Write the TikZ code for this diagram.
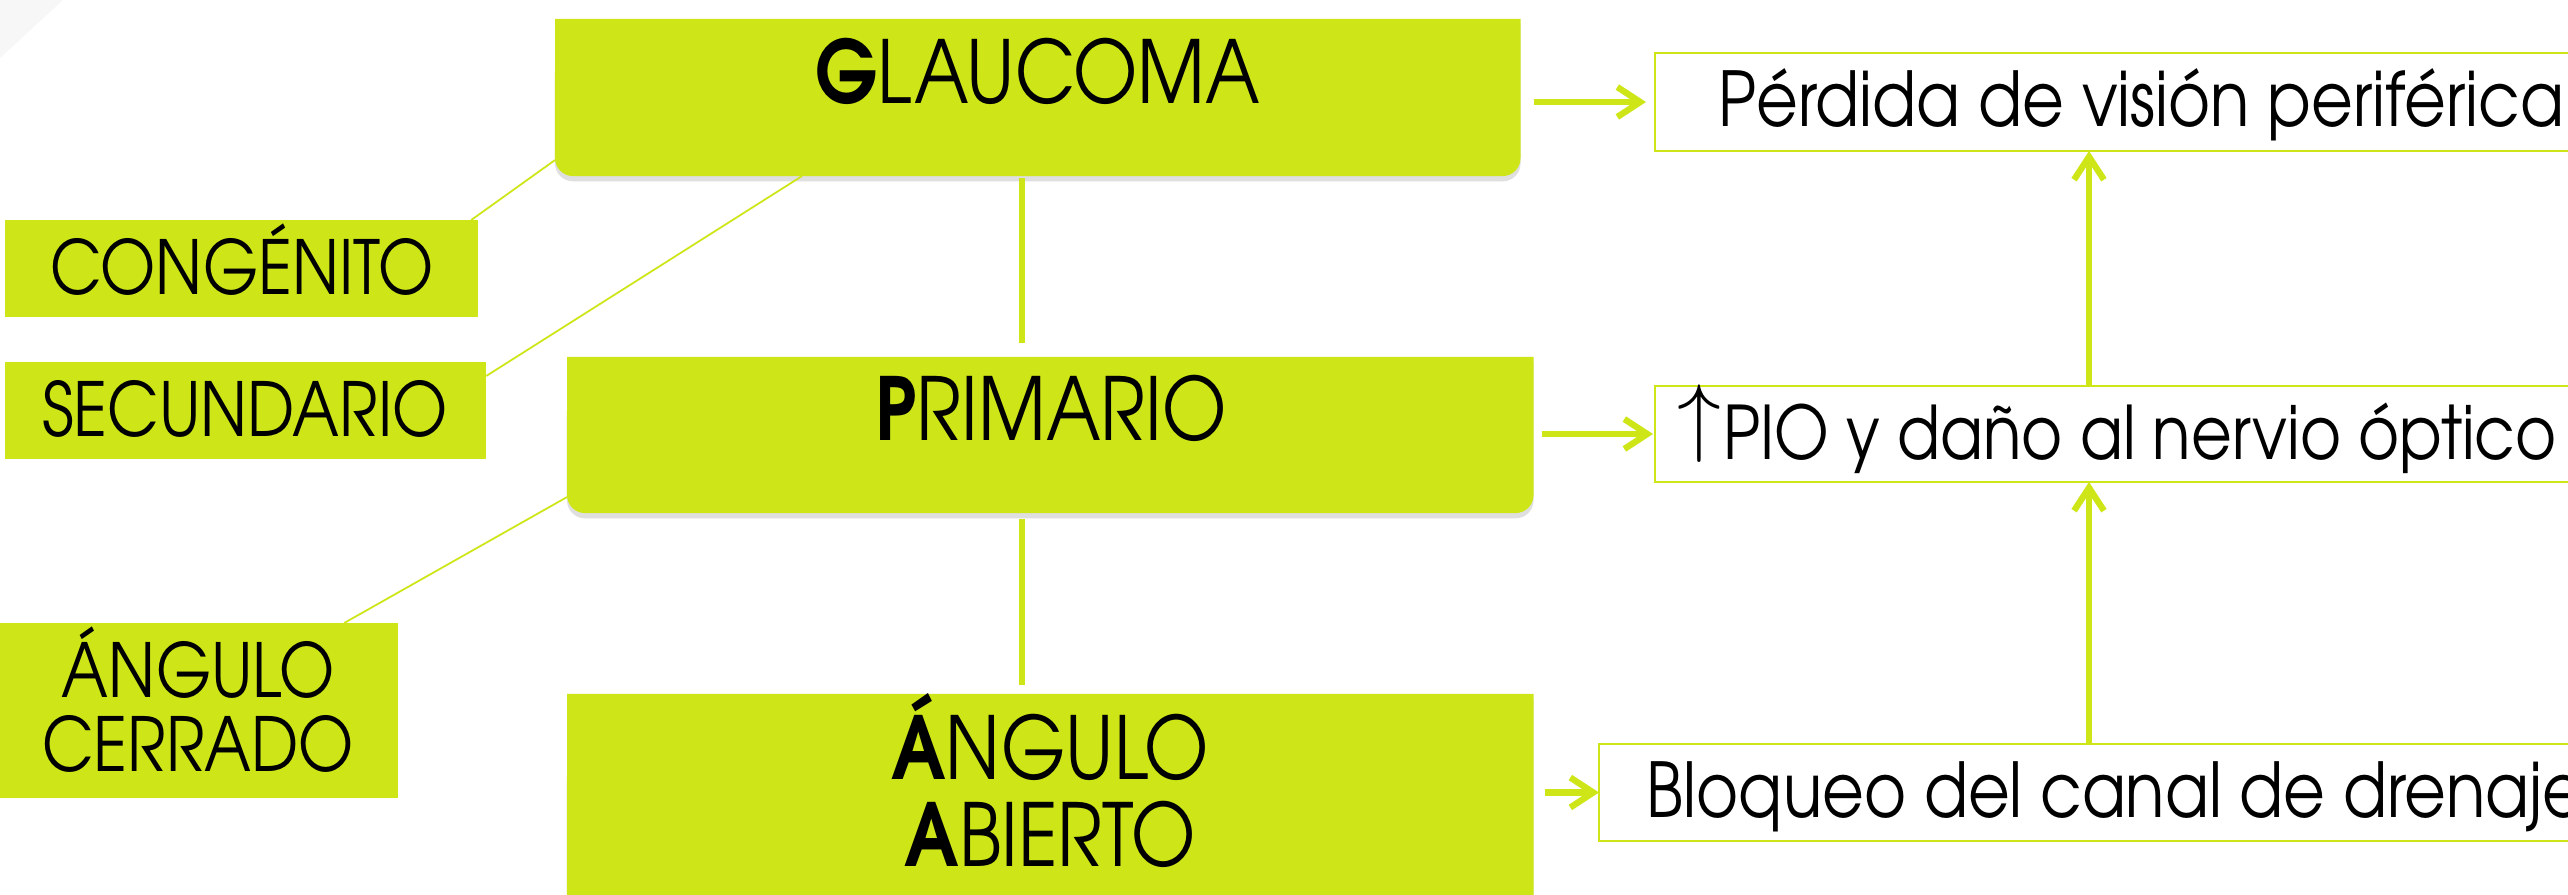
\documentclass[tikz,border=0pt]{standalone}
\usepackage{fontspec}
\setmainfont{texgyreadventor}[Extension=.otf, UprightFont=*-regular, BoldFont=*-bold, ItalicFont=*-italic, BoldItalicFont=*-bolditalic, FakeStretch=0.85]
\usetikzlibrary{arrows.meta,shadows,calc}
\definecolor{lime}{RGB}{206,230,24}
\tikzset{
  bigbox/.style={rectangle, inner sep=0pt, outer sep=0pt, anchor=north west},
  lblbox/.style={rectangle, fill=lime, inner sep=0pt, outer sep=0pt, anchor=north west},
  rbox/.style={rectangle, draw=lime, line width=0.7pt, fill=white, inner sep=0pt, outer sep=0pt, anchor=north west},
  bigtxt/.style={font=\fontsize{24.7}{25}\selectfont, inner sep=0pt, anchor=base},
  lbltxt/.style={font=\fontsize{21.2}{21.3}\selectfont, inner sep=0pt, anchor=base},
  rtxt/.style={font=\fontsize{21.5}{22}\selectfont, inner sep=0pt, anchor=base west},
  arr/.style={draw=lime, line width=1.8pt, -{Straight Barb[length=6.5pt,width=8.5pt]}},
  conn/.style={draw=lime, line width=1.6pt},
  thinconn/.style={draw=lime, line width=0.5pt},
  boxshadow/.style={drop shadow={opacity=0.25, shadow xshift=0pt, shadow yshift=-1.5pt}},
}
\begin{document}
\begin{tikzpicture}[x=0.01cm,y=0.01cm]
\clip (0,0) rectangle (2568,895);
\fill[white] (0,0) rectangle (2568,895);
\fill[black!3] (0,895) -- (63,895) -- (0,837) -- cycle;

% main boxes (invisible nodes, filled below)
\node[bigbox, minimum width=9.65cm, minimum height=1.57cm] (g) at (555,876) {};
\node[bigbox, minimum width=9.66cm, minimum height=1.56cm] (p) at (567,538) {};
\node[bigbox, minimum width=9.66cm, minimum height=2.3cm] (a) at (567,201) {};

\foreach \n in {g,p,a}{
  \fill[lime, boxshadow] (\n.north west) -- (\n.north east) -- ($(\n.south east)+(0,18)$)
    arc[start angle=0, end angle=-90, radius=0.18cm] -- ($(\n.south west)+(18,0)$)
    arc[start angle=-90, end angle=-180, radius=0.18cm] -- cycle;
}

% left label boxes
\node[lblbox, minimum width=4.73cm, minimum height=0.97cm] (cong) at (5,675) {};
\node[lblbox, minimum width=4.81cm, minimum height=0.97cm] (sec) at (5,533) {};
\node[lblbox, minimum width=4.03cm, minimum height=1.75cm] (cerr) at (-5,272) {};

% right boxes
\node[rbox, minimum width=10cm, minimum height=0.98cm] (r1) at (1655,842) {};
\node[rbox, minimum width=10cm, minimum height=0.96cm] (r2) at (1655,509) {};
\node[rbox, minimum width=10.5cm, minimum height=0.97cm] (r3) at (1599,151) {};

% texts
\node[bigtxt] (gt) at (1038,791) {\textbf{G}LAUCOMA};
\node[bigtxt] (pt) at (1051,454) {\textbf{P}RIMARIO};
\node[bigtxt, align=center, font=\fontsize{24.7}{25}\selectfont] (at) at (1050,28) {\textbf{Á}NGULO\\\textbf{A}BIERTO};
\node[lbltxt] (ct) at (242,600) {CONGÉNITO};
\node[lbltxt] (st) at (245,458) {SECUNDARIO};
\node[lbltxt, align=center] (crt) at (198,123) {ÁNGULO\\CERRADO};
\node[rtxt] (t1) at (1718,768) {Pérdida de visión periférica};
\node[rtxt, font=\fontsize{21}{22}\selectfont] (t2) at (1677,435) {\raisebox{4.1pt}{\fontsize{24}{24}\selectfont$\uparrow$}\hspace{0.5pt}PIO y daño al nervio óptico};
\node[rtxt] (t3) at (1646,77) {Bloqueo del canal de drenaje};

% connectors
\coordinate (vx) at (1022,0);
\coordinate (vx2) at (2089,0);
\draw[conn] ($(g.south -| vx)+(0,-2)$) -- ($(p.north -| vx)+(0,14)$);
\draw[conn] ($(p.south -| vx)+(0,-6)$) -- ($(a.north -| vx)+(0,9)$);

\draw[arr, shorten <=0.13cm, shorten >=0.09cm] (g.east |- r1.west) -- (r1.west);
\draw[arr, shorten <=0.08cm, shorten >=0.02cm] (p.east |- r2.west) -- (r2.west);
\draw[arr, shorten <=0.11cm] (a.east |- r3.west) -- (r3.west);
\draw[arr] (r2.north -| vx2) -- (r1.south -| vx2);
\draw[arr] (r3.north -| vx2) -- (r2.south -| vx2);

\draw[thinconn] ($(cong.north east)+(-7,0)$) -- ($(g.south west)+(0,16)$);
\draw[thinconn] ($(sec.north east)+(0,-14)$) -- ($(g.south west)+(247,0)$);
\draw[thinconn] ($(cerr.north east)+(-54,0)$) -- ($(p.south west)+(0,16)$);
\end{tikzpicture}
\end{document}
